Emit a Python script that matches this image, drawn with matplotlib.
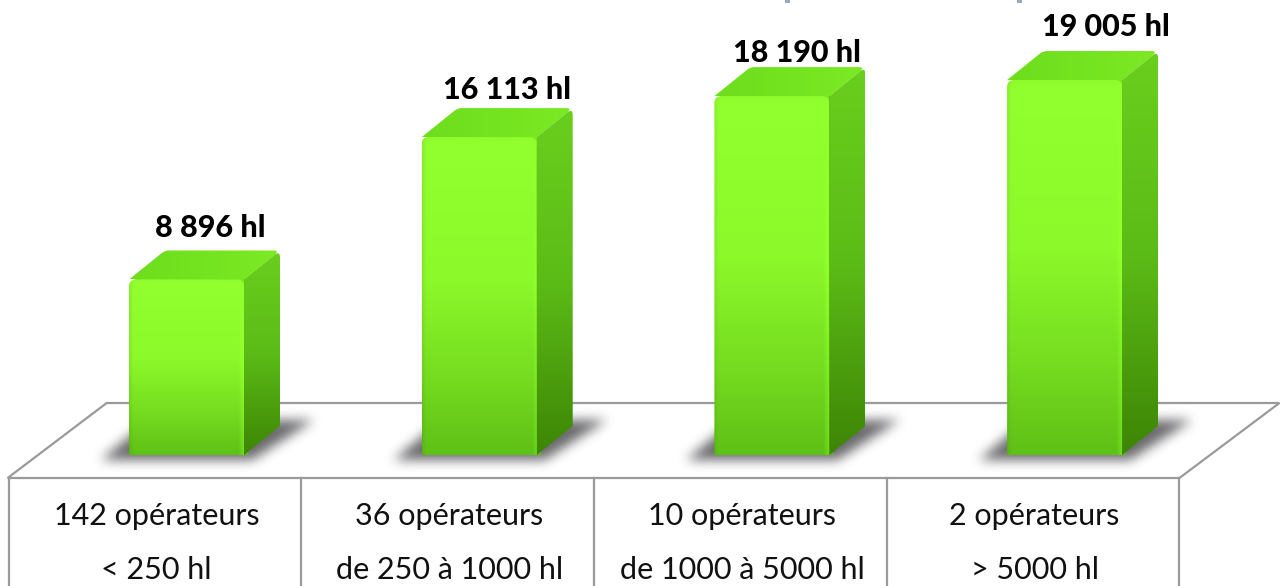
import numpy as np
import matplotlib
matplotlib.use("Agg")
import matplotlib.pyplot as plt
from matplotlib.patches import PathPatch, Polygon
from matplotlib.path import Path
from matplotlib.colors import to_rgb

volumes = [8896, 16113, 18190, 19005]
value_labels = ["8 896 hl", "16 113 hl", "18 190 hl", "19 005 hl"]
operateurs = ["142 opérateurs", "36 opérateurs", "10 opérateurs", "2 opérateurs"]
tranches = ["< 250 hl", "de 250 à 1000 hl", "de 1000 à 5000 hl", "> 5000 hl"]

# label placement, pixels relative to the bar (hand placed in the original)
label_dx = [24, 28, 25, 41]
label_gap = [13, 9, 5, 15]

W, H = 1286, 586
STEP = 292.7      # px between bars
X0 = 186.5        # px of first bar centre
Y0 = 455          # px of baseline
PX_PER_HL = 0.01973
BAR_W = 115
DX, DY = 36, 29   # depth of the 3d effect
GREY = "#9a9a9a"
CELL_SHIFT = 31.5

fig = plt.figure(figsize=(W / 100, H / 100), dpi=100)
ax = fig.add_axes([0, 0, 1, 1])
ax.set_xlim(-X0 / STEP, (W - X0) / STEP)
ax.set_ylim(-(H - Y0) / PX_PER_HL, Y0 / PX_PER_HL)
ax.axis("off")
lims = ax.get_xlim(), ax.get_ylim()


def ox(px):
    return px / STEP


def oy(px):
    return px / PX_PER_HL


def lerp_stops(stops, t):
    pos = [s[0] for s in stops]
    rgb = np.array([to_rgb(s[1]) for s in stops])
    return np.stack([np.interp(t, pos, rgb[:, k]) for k in range(3)], axis=-1)


def blur(a, n=7, passes=3):
    kern = np.ones(n) / n
    for _ in range(passes):
        a = np.apply_along_axis(lambda r: np.convolve(r, kern, mode="same"), 0, a)
        a = np.apply_along_axis(lambda r: np.convolve(r, kern, mode="same"), 1, a)
    return a


def rounded(points, r):
    # closed path through points, r = corner radius in pixels for each corner
    verts, codes = [], []
    n = len(points)
    for k in range(n):
        p = np.array(points[k], float)
        a = np.array(points[k - 1], float)
        b = np.array(points[(k + 1) % n], float)
        if r[k] == 0:
            verts.append(p)
            codes.append(Path.LINETO)
            continue
        ua = (a - p) / np.linalg.norm((a - p) * [STEP, PX_PER_HL])
        ub = (b - p) / np.linalg.norm((b - p) * [STEP, PX_PER_HL])
        verts += [p + ua * r[k], p, p + ub * r[k]]
        codes += [Path.LINETO, Path.CURVE3, Path.CURVE3]
    codes[0] = Path.MOVETO
    verts.append(verts[0])
    codes.append(Path.CLOSEPOLY)
    return Path(verts, codes)


def fill_gradient(path, img, x1, x2, y1, y2, z):
    im = ax.imshow(img, extent=[x1, x2, y1, y2], origin="upper", aspect="auto",
                   interpolation="bilinear", zorder=z)
    patch = PathPatch(path, transform=ax.transData, fc="none", ec="none")
    ax.add_patch(patch)
    im.set_clip_path(patch)


# floor of the platform
left_edge = -0.5 - ox(CELL_SHIFT)
right_edge = 3.5 - ox(CELL_SHIFT)
floor_x = [left_edge - ox(1), left_edge + ox(98), right_edge + ox(100), right_edge]
floor_y = [oy(-23), oy(52), oy(52), oy(-23)]
ax.add_patch(Polygon(np.column_stack([floor_x, floor_y]), closed=True, fc="white", ec=GREY,
                     lw=1.6, zorder=1))

# table under the platform
cell_edges = np.arange(len(volumes) + 1) - 0.5 - ox(CELL_SHIFT)
for e in cell_edges:
    ax.plot([e, e], [oy(-23), ax.get_ylim()[0]], color=GREY, lw=1.6, zorder=1)

# shadows, all on one image
yy, xx = np.mgrid[0:H, 0:W]
grid = np.column_stack([xx.ravel() + 0.5, yy.ravel() + 0.5])
mask = np.zeros((H, W))
for i in range(len(volumes)):
    c = X0 + STEP * i
    l, r = c - BAR_W / 2, c + BAR_W / 2
    shape = Path([(l - 28, 460), (r + 8, 460), (r + 70, 420), (l + 20, 420), (l - 28, 460)])
    mask[shape.contains_points(grid).reshape(H, W)] = 1
mask = np.clip(blur(mask, 11, 3) * 0.85, 0, 1)
shadow = np.zeros((H, W, 4))
shadow[..., :3] = to_rgb("#505055")
shadow[..., 3] = mask
ax.imshow(shadow, extent=[*lims[0], lims[1][0], lims[1][1]], origin="upper", aspect="auto",
          interpolation="bilinear", zorder=2)

front_stops = [(0, "#8efb2c"), (0.02, "#92ff2e"), (0.45, "#8cf92a"), (0.75, "#76dd20"), (1, "#5fc016")]
side_stops = [(0, "#69cf1d"), (0.5, "#5cbc17"), (1, "#3d8505")]
top_stops = [(0, "#6ddd1d"), (1, "#7cea23")]

for i, v in enumerate(volumes):
    l, r = i - ox(BAR_W / 2), i + ox(BAR_W / 2)
    dx, dy = ox(DX), oy(DY)

    # solid backing so no floor line shows between the faces
    backing = Path([(r - ox(4), 0), (r - ox(4), v), (r + ox(4), v), (r + ox(4), 0), (r - ox(4), 0)])
    ax.add_patch(PathPatch(backing, fc="#5cbc17", ec="none", zorder=2.5))

    # top face
    top_img = lerp_stops(top_stops, np.linspace(0, 1, 100))[None, :, :]
    top_path = rounded([(l, v), (l + dx, v + dy), (r + dx, v + dy), (r, v)], [0, 4, 7, 0])
    fill_gradient(top_path, top_img, l, r + dx, v, v + dy, 3)

    # side face
    rows = np.linspace(0, 1, 200)[:, None]
    side = lerp_stops(side_stops, rows)
    side_path = rounded([(r, 0), (r, v), (r + dx, v + dy), (r + dx, dy)], [0, 0, 7, 0])
    fill_gradient(side_path, side, r, r + dx, 0, v + dy, 4)

    # fills the notch behind the rounded front corner
    back_path = Path([(l + ox(6), v), (r, v), (r, v - oy(8)), (l + ox(6), v - oy(8)), (l + ox(6), v)])
    ax.add_patch(PathPatch(back_path, fc="#79e622", ec="none", zorder=4.5))

    # front face, lighter strip near the right edge and darker left edge
    rows = np.linspace(0, 1, 300)
    cols = np.linspace(0, 1, BAR_W)
    front = lerp_stops(front_stops, rows)[:, None, :].repeat(BAR_W, axis=1)
    edge = np.clip(1 - (1 - cols) * BAR_W / 5, 0, 1)[None, :, None]
    front = front + edge * 0.10 * rows[:, None, None] * np.array([0.6, 1, 0.2])
    left = np.clip(1 - cols * BAR_W / 4, 0, 1)[None, :, None]
    front = np.clip(front * (1 - 0.07 * left), 0, 1)
    front_path = rounded([(l, 0), (l, v), (r, v), (r, 0)], [0, 7, 7, 0])
    fill_gradient(front_path, front, l, r, 0, v, 5)

    # value label above the bar
    ax.text(i + ox(label_dx[i]), v + oy(DY + label_gap[i]), value_labels[i], ha="center", va="baseline",
            family="Lato", fontweight="black", fontsize=22, color="black", zorder=6)

    # table text
    cx = i - ox(30)
    ax.text(cx, oy(-70), operateurs[i], ha="center", va="baseline", family="Lato", fontsize=22,
            color="#111111", zorder=6)
    ax.text(cx, oy(-124), tranches[i], ha="center", va="baseline", family="Lato", fontsize=22,
            color="#111111", zorder=6)

# bottoms of the cut-off title
for xp in [783, 1015]:
    fig.text(xp / W, 1 + 3 / H, "p", family="Lato", fontweight="black", fontsize=26, color="#9aa8c8",
             ha="left", va="baseline")

ax.set_xlim(*lims[0])
ax.set_ylim(*lims[1])
fig.savefig("out.png", dpi=100)
